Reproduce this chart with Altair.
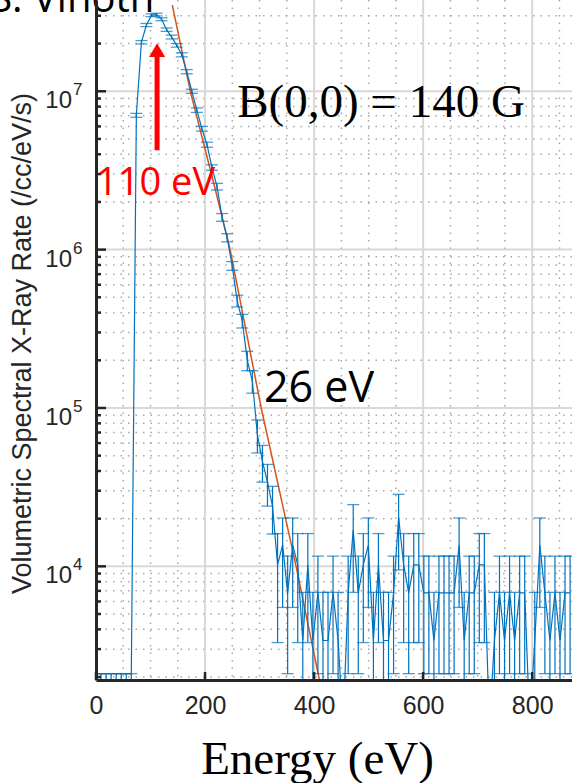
import altair as alt
import pandas as pd

# ---------------- data ----------------
# main part of the measured spectrum (energy in eV, rate in /cc/eV/s, error-bar ends)
spec_energy = [0, 9.25, 18.5, 27.75, 37, 46.25, 55.5, 64.75, 74, 83.25,
               92.5, 101.75, 111, 120.25, 129.5, 138.75, 148, 157.25, 166.5, 175.75,
               185, 194.25, 203.5, 212.75, 222, 231.25, 240.5, 249.75, 259, 268.25,
               277.5, 286.75, 296, 305.25, 314.5, 323.75]
spec_rate = [2100, 2100, 2100, 2100, 2100, 2100, 2100, 2100, 7.05e6, 2.04e7,
             2.62e7, 3.02e7, 3.05e7, 2.85e7, 2.45e7, 2.2e7, 1.95e7, 1.7e7, 1.33e7, 1.0e7,
             7.6e6, 5.8e6, 4.6e6, 3.3e6, 2.5e6, 1.6e6, 1.19e6, 7.9e5, 4.75e5, 3.55e5,
             2.0e5, 1.48e5, 6.8e4, 4.6e4, 3.4e4, 2.4e4]
spec_lo = [1000, 1000, 1000, 1000, 1000, 1000, 1000, 1000, 6.85e6, 1.99e7,
           2.56e7, 2.96e7, 2.99e7, 2.79e7, 2.39e7, 2.14e7, 1.9e7, 1.65e7, 1.29e7, 0.97e7,
           7.35e6, 5.6e6, 4.43e6, 3.17e6, 2.38e6, 1.51e6, 1.12e6, 7.4e5, 4.35e5, 3.2e5,
           1.72e5, 1.24e5, 5.2e4, 3.4e4, 2.4e4, 1.6e4]
spec_hi = [2100, 2100, 2100, 2100, 2100, 2100, 2100, 2100, 7.25e6, 2.09e7,
           2.68e7, 3.08e7, 3.11e7, 2.91e7, 2.51e7, 2.26e7, 2.0e7, 1.75e7, 1.37e7, 1.03e7,
           7.85e6, 6.0e6, 4.77e6, 3.43e6, 2.62e6, 1.69e6, 1.26e6, 8.4e5, 5.15e5, 3.9e5,
           2.28e5, 1.72e5, 8.4e4, 5.8e4, 4.4e4, 3.2e4]

# noise floor: energies and count level of each bin
noise_energy = [333, 342.25, 351.5, 360.75, 370, 379.25, 388.5, 397.75, 407, 416.25,
                425.5, 434.75, 444, 453.25, 462.5, 471.75, 481, 490.25, 499.5, 508.75,
                518, 527.25, 536.5, 545.75, 555, 564.25, 573.5, 582.75, 592, 601.25,
                610.5, 619.75, 629, 638.25, 647.5, 656.75, 666, 675.25, 684.5, 693.75,
                703, 712.25, 721.5, 730.75, 740, 749.25, 758.5, 767.75, 777, 786.25,
                795.5, 804.75, 814, 823.25, 832.5, 841.75, 851, 860.25, 869.5]
noise_level = [3, 4, 2, 4, 3, 1, 3, 1, 2, 1,
               1, 2, 1, 0, 2, 5, 2, 3, 4, 1,
               3, 1, 1, 2, 6, 3, 2, 3, 3, 2,
               2, 1, 2, 2, 2, 2, 4, 1, 2, 2,
               3, 3, 0, 1, 2, 1, 2, 1, 2, 2,
               0, 1, 4, 2, 1, 2, 1, 2, 2]
# rate, lower and upper error-bar end of each count level (level 0 lies below the axis)
level_rate = [1000, 3400, 6800, 10200, 13600, 17000, 20400]
level_lo = [1000, 1000, 2100, 3300, 5500, 6850, 9500]
level_hi = [1000, 6850, 11600, 16100, 20200, 24500, 28500]

# exponential fit (26 eV)
fit_energy = [140, 173, 214.7, 246, 303, 367, 410]
fit_rate = [3.5e7, 1.0e7, 2.73e6, 1.0e6, 1.0e5, 1.0e4, 1.9e3]

# axis ticks / grid
x_major = [200, 400, 600, 800]
x_minor = [50, 100, 150, 250, 300, 350, 450, 500, 550, 650, 700, 750, 850]
x_ticks = [0, 200, 400, 600, 800]
y_major = [1e4, 1e5, 1e6, 1e7]
y_exp = ["4", "5", "6", "7"]
y_minor = [2e3, 3e3, 4e3, 5e3, 6e3, 7e3, 8e3, 9e3,
           2e4, 3e4, 4e4, 5e4, 6e4, 7e4, 8e4, 9e4,
           2e5, 3e5, 4e5, 5e5, 6e5, 7e5, 8e5, 9e5,
           2e6, 3e6, 4e6, 5e6, 6e6, 7e6, 8e6, 9e6,
           2e7, 3e7]

# ---------------- tables ----------------
spec_df = pd.DataFrame({"E": spec_energy, "rate": spec_rate, "lo": spec_lo, "hi": spec_hi})
noise_df = pd.DataFrame({
    "E": noise_energy,
    "rate": [level_rate[n] for n in noise_level],
    "lo": [level_lo[n] for n in noise_level],
    "hi": [level_hi[n] for n in noise_level],
})
data_df = pd.concat([spec_df, noise_df], ignore_index=True)
fit_df = pd.DataFrame({"E": fit_energy, "rate": fit_rate})

BLUE = "#0072BD"
ORANGE = "#D95319"
DARK = "#262626"

xs = alt.Scale(domain=[0, 873], nice=False, zero=False)
ys = alt.Scale(type="log", domain=[1915, 3.77e7], nice=False)

x_axis = alt.Axis(values=x_ticks, format="d", labelFont="Liberation Sans", labelFontSize=25,
                  labelColor=DARK, labelPadding=13, labelFlush=False, labelOverlap=False,
                  ticks=False, grid=False, domainColor=DARK, domainWidth=3, zindex=2,
                  title="Energy (eV)", titleFont="Liberation Serif", titleFontSize=47,
                  titleFontWeight="normal", titleColor="black", titleX=221, titleY=93,
                  titleAlign="center", titleBaseline="alphabetic")
y_axis = alt.Axis(values=y_major, labels=False, ticks=False, grid=False, domainColor=DARK,
                  domainWidth=3, zindex=2,
                  title="Volumetric Spectral X-Ray Rate (/cc/eV/s)", titleFont="Liberation Sans",
                  titleFontSize=27, titleFontWeight="normal", titleColor=DARK,
                  titleX=-74, titleY=343, titleAngle=270, titleAlign="center",
                  titleBaseline="middle")


def X(f):
    return alt.X(f, type="quantitative", scale=xs, axis=x_axis)


def Y(f):
    return alt.Y(f, type="quantitative", scale=ys, axis=y_axis)


# grid
gx_major = alt.Chart(pd.DataFrame({"v": x_major})).mark_rule(color="#d8d8d8", strokeWidth=2).encode(x=X("v"))
gx_minor = alt.Chart(pd.DataFrame({"v": x_minor})).mark_rule(
    color="#a8a8a8", strokeWidth=1.5, strokeDash=[1.5, 6]).encode(x=X("v"))
gy_major = alt.Chart(pd.DataFrame({"v": y_major})).mark_rule(color="#d8d8d8", strokeWidth=2).encode(y=Y("v"))
gy_minor = alt.Chart(pd.DataFrame({"v": y_minor})).mark_rule(
    color="#a8a8a8", strokeWidth=1.5, strokeDash=[1.5, 6]).encode(y=Y("v"))

# fit
fit = alt.Chart(fit_df).mark_line(color=ORANGE, strokeWidth=1.5, clip=True).encode(x=X("E"), y=Y("rate"))

# error bars and data line
bars = alt.Chart(data_df).mark_rule(color=BLUE, strokeWidth=1.2, clip=True).encode(
    x=X("E"), y=Y("lo"), y2="hi:Q")
caps_lo = alt.Chart(data_df).mark_tick(color=BLUE, orient="horizontal", size=12, thickness=1.3,
                                       clip=True).encode(x=X("E"), y=Y("lo"))
caps_hi = alt.Chart(data_df).mark_tick(color=BLUE, orient="horizontal", size=12, thickness=1.3,
                                       clip=True).encode(x=X("E"), y=Y("hi"))
line = alt.Chart(data_df).mark_line(color=BLUE, strokeWidth=1.2, clip=True).encode(
    x=X("E"), y=Y("rate"))

# inward ticks
ty_major = alt.Chart(pd.DataFrame({"v": y_major})).mark_rule(color=DARK, strokeWidth=2.5).encode(
    y=Y("v"), x=alt.value(0), x2=alt.value(10))
ty_minor = alt.Chart(pd.DataFrame({"v": y_minor})).mark_rule(color=DARK, strokeWidth=2.5).encode(
    y=Y("v"), x=alt.value(0), x2=alt.value(5))
tx = alt.Chart(pd.DataFrame({"v": x_ticks})).mark_rule(color=DARK, strokeWidth=2.5).encode(
    x=X("v"), y=alt.value(680), y2=alt.value(672))

# y tick labels 10^n
ylab_df = pd.DataFrame({"v": y_major, "base": ["10", "10", "10", "10"], "exp": y_exp})
ylab_base = alt.Chart(ylab_df).mark_text(font="Liberation Sans", fontSize=24, color=DARK,
                                          align="right", baseline="alphabetic", dy=17).encode(
    y=Y("v"), x=alt.value(-24), text="base:N")
ylab_exp = alt.Chart(ylab_df).mark_text(font="Liberation Sans", fontSize=17, color=DARK,
                                         align="left", baseline="alphabetic", dy=4).encode(
    y=Y("v"), x=alt.value(-23), text="exp:N")

# annotations
ann_b = alt.Chart(pd.DataFrame({"E": [259], "r": [6.84e6], "t": ["B(0,0) = 140 G"]})).mark_text(
    font="Liberation Serif", fontSize=47, color="black", align="left", baseline="alphabetic").encode(
    x=X("E"), y=Y("r"), text="t:N")
ann_110 = alt.Chart(pd.DataFrame({"E": [0], "r": [2.2e6], "t": ["110 eV"]})).mark_text(
    font="Open Sans", fontSize=38, color="#ff0000", align="left", baseline="alphabetic").encode(
    x=X("E"), y=Y("r"), text="t:N")
ann_26 = alt.Chart(pd.DataFrame({"E": [308], "r": [1.09e5], "t": ["26 eV"]})).mark_text(
    font="Open Sans", fontSize=43, color="black", align="left", baseline="alphabetic").encode(
    x=X("E"), y=Y("r"), text="t:N")
ann_top = alt.Chart(pd.DataFrame({"E": [107], "r": [3.16e7], "t": ["S. Vinoth"]})).mark_text(
    font="Open Sans", fontSize=40, color="black", align="right", baseline="alphabetic").encode(
    x=X("E"), y=Y("r"), text="t:N")

arrow_df = pd.DataFrame({"E": [112], "r0": [4.24e6], "r1": [1.7e7], "head": [1.82e7]})
arrow_shaft = alt.Chart(arrow_df).mark_rule(color="#ff0000", strokeWidth=5).encode(
    x=X("E"), y=Y("r0"), y2="r1:Q")
arrow_head = alt.Chart(arrow_df).mark_point(shape="triangle-up", filled=True, color="#ff0000",
                                            size=256, opacity=1, strokeWidth=0).encode(
    x=X("E"), y=Y("head"))

chart = alt.layer(
    gx_minor, gy_minor, gx_major, gy_major,
    fit, bars, caps_lo, caps_hi, line,
    ty_major, ty_minor, tx, ylab_base, ylab_exp,
    ann_b, ann_110, ann_26, ann_top, arrow_shaft, arrow_head,
).properties(
    width=476, height=680,
    padding={"left": 96, "top": 0, "right": 0, "bottom": 103},
    autosize=alt.AutoSizeParams(type="none"),
    background="white",
).configure_view(stroke=None)

chart.save("out.html", embed_options={"renderer": "svg", "actions": False})
